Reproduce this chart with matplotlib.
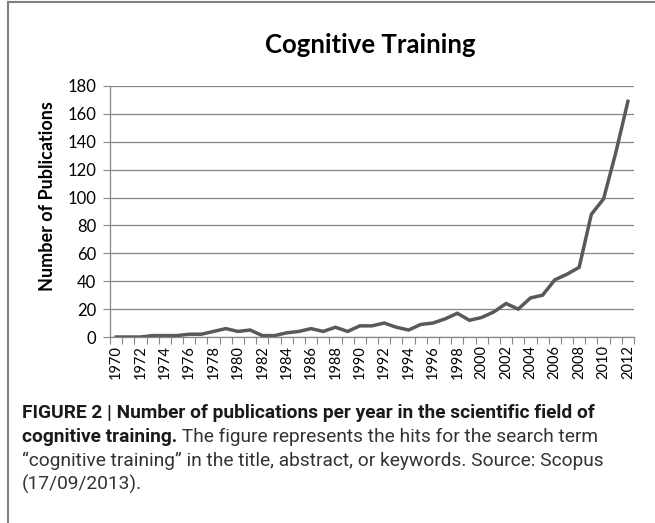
import matplotlib
matplotlib.use("Agg")
import matplotlib.pyplot as plt
from matplotlib.lines import Line2D
import numpy as np

years = list(range(1970, 2013))
counts = [0, 0, 0, 1, 1, 1, 2, 2, 4, 6, 4, 5, 1, 1, 3, 4, 6, 4, 7, 4,
          8, 8, 10, 7, 5, 9, 10, 13, 17, 12, 14, 18, 24, 20, 28, 30, 41,
          45, 50, 88, 99, 132, 169]
y_ticks = [0, 20, 40, 60, 80, 100, 120, 140, 160, 180]

grey = '#868686'

fig = plt.figure(figsize=(6.55, 5.23), dpi=100)
ax = fig.add_axes([110 / 655, 1 - 337 / 523, 524 / 655, 251 / 523])

x = np.arange(len(years))
ax.plot(x, counts, color='#595959', lw=2.5, solid_joinstyle='miter')

ax.set_xlim(-0.5, len(years) - 0.5)
ax.set_ylim(0, 180)
ax.set_yticks(y_ticks)
ax.set_yticklabels([str(v) for v in y_ticks], family='Lato', fontsize=12)
ax.yaxis.grid(True, color=grey, lw=0.9)
ax.set_axisbelow(True)

ax.set_xticks(np.arange(len(years) + 1) - 0.5)
ax.set_xticklabels([])
ax.set_xticks(x[::2], minor=True)
ax.set_xticklabels([str(y) for y in years[::2]], minor=True, rotation=90,
                   family='Lato', fontsize=10.5)
ax.tick_params(axis='x', which='major', length=5, color=grey, direction='out')
ax.tick_params(axis='x', which='minor', length=0, pad=6)
ax.tick_params(axis='y', length=5, color=grey, pad=5)

for s in ['top', 'right']:
    ax.spines[s].set_visible(False)
for s in ['left', 'bottom']:
    ax.spines[s].set_color(grey)
    ax.spines[s].set_linewidth(0.9)

ax.set_ylabel('Number of Publications', family='Lato', fontweight='bold',
              fontsize=13)
ax.yaxis.set_label_coords(-0.103, 0.56)
fig.text(370 / 655, 1 - 45 / 523, 'Cognitive Training', family='Lato',
         fontweight='bold', fontsize=18.5, ha='center', va='center')

# frame around the figure panel
fig.add_artist(Line2D([8 / 655, 1], [1 - 1.5 / 523] * 2, color='#7f7f7f', lw=1.5))
fig.add_artist(Line2D([8 / 655] * 2, [0, 1 - 1.5 / 523], color='#7f7f7f', lw=1.5))

cap_font = dict(family=['Roboto', 'DejaVu Sans'], fontsize=13.8)
x0 = 22 / 655
t1 = fig.text(x0, 1 - 418 / 523,
              'FIGURE 2 | Number of publications per year in the scientific field of',
              fontweight='bold', color='#1a1a1a', **cap_font)
t2 = fig.text(x0, 1 - 442 / 523, 'cognitive training.', fontweight='bold',
              color='#1a1a1a', **cap_font)
ax.annotate(' The figure represents the hits for the search term',
            xy=(1, 0), xycoords=t2, va='bottom', ha='left', color='#333333',
            **cap_font)
fig.text(x0, 1 - 466 / 523,
         '\u201ccognitive training\u201d in the title, abstract, or keywords. Source: Scopus',
         color='#333333', **cap_font)
fig.text(x0, 1 - 490 / 523, '(17/09/2013).', color='#333333', **cap_font)

fig.savefig('out.png', dpi=100)
